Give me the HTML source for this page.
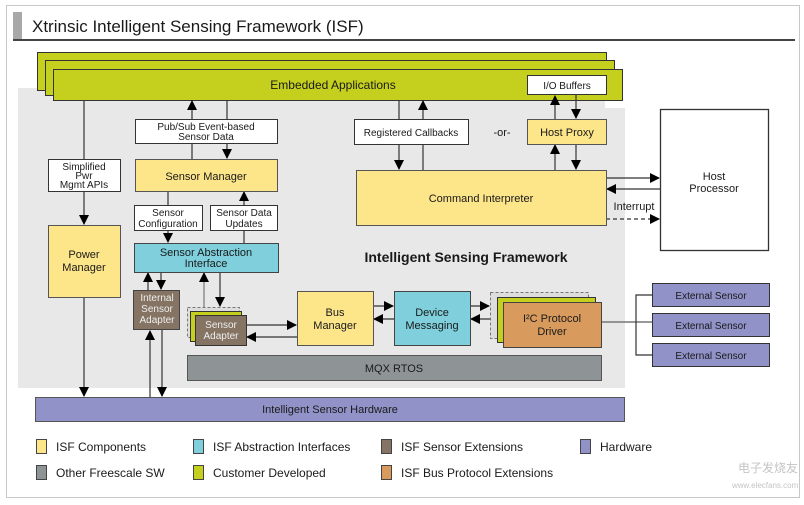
<!DOCTYPE html>
<html><head><meta charset="utf-8"><style>
html,body{margin:0;padding:0;background:#fff}
svg{display:block}
text{font-family:"Liberation Sans",sans-serif;fill:#1a1a1a}
</style></head><body>
<svg width="804" height="505" viewBox="0 0 804 505" xmlns="http://www.w3.org/2000/svg">
<defs>
<marker id="a" markerWidth="10" markerHeight="10" refX="9" refY="5" orient="auto" markerUnits="userSpaceOnUse"><path d="M0,0 L10,5 L0,10 z" fill="#000"/></marker>
</defs>
<rect x="6.5" y="5.5" width="793" height="492" fill="#fff" stroke="#c8c8c8"/>
<rect x="13" y="12" width="9" height="28" fill="#a8a8a8"/>
<text x="32" y="32" font-size="17">Xtrinsic Intelligent Sensing Framework (ISF)</text>
<rect x="13" y="39" width="782" height="2" fill="#444"/>
<rect x="18" y="88" width="607" height="300" fill="#e8e8e8"/>
<rect x="605" y="88" width="20" height="20" fill="#fff"/>
<g stroke="#333" fill="#c4cf1e">
<rect x="37.5" y="52.5" width="569" height="38"/>
<rect x="45.5" y="60.5" width="569" height="35"/>
<rect x="53.5" y="69.5" width="569" height="31"/>
</g>
<text x="333" y="89" font-size="12" text-anchor="middle">Embedded Applications</text>
<rect x="527.5" y="75.5" width="79" height="19" fill="#fff" stroke="#333"/>
<text x="567" y="89" font-size="10" text-anchor="middle">I/O Buffers</text>
<g stroke="#333" stroke-width="1.2" fill="none">
<line x1="84" y1="100" x2="84" y2="224" marker-end="url(#a)"/>
<line x1="84" y1="298" x2="84" y2="396" marker-end="url(#a)"/>
<line x1="192" y1="159" x2="192" y2="101" marker-end="url(#a)"/>
<line x1="227" y1="100" x2="227" y2="158" marker-end="url(#a)"/>
<line x1="168" y1="191" x2="168" y2="242" marker-end="url(#a)"/>
<line x1="244" y1="243" x2="244" y2="192" marker-end="url(#a)"/>
<line x1="148" y1="290" x2="148" y2="273" marker-end="url(#a)"/>
<line x1="161" y1="272" x2="161" y2="289" marker-end="url(#a)"/>
<line x1="204" y1="307" x2="204" y2="273" marker-end="url(#a)" stroke="#777"/>
<line x1="220" y1="272" x2="220" y2="306" marker-end="url(#a)"/>
<line x1="150" y1="397" x2="150" y2="331" marker-end="url(#a)"/>
<line x1="162" y1="330" x2="162" y2="396" marker-end="url(#a)"/>
<line x1="246" y1="325" x2="296" y2="325" marker-end="url(#a)"/>
<line x1="297" y1="337" x2="247" y2="337" marker-end="url(#a)"/>
<line x1="373" y1="306" x2="393" y2="306" marker-end="url(#a)"/>
<line x1="394" y1="319" x2="374" y2="319" marker-end="url(#a)"/>
<line x1="470" y1="306" x2="489" y2="306" marker-end="url(#a)"/>
<line x1="490" y1="319" x2="471" y2="319" marker-end="url(#a)"/>
<line x1="399" y1="100" x2="399" y2="169" marker-end="url(#a)"/>
<line x1="423" y1="170" x2="423" y2="101" marker-end="url(#a)"/>
<line x1="555" y1="119" x2="555" y2="96" marker-end="url(#a)"/>
<line x1="576" y1="95" x2="576" y2="118" marker-end="url(#a)"/>
<line x1="555" y1="170" x2="555" y2="145" marker-end="url(#a)"/>
<line x1="576" y1="144" x2="576" y2="169" marker-end="url(#a)"/>
<line x1="606" y1="178" x2="659" y2="178" marker-end="url(#a)"/>
<line x1="660" y1="189" x2="607" y2="189" marker-end="url(#a)"/>
<line x1="606" y1="219" x2="659" y2="219" marker-end="url(#a)" stroke-dasharray="4,3"/>
<line x1="600" y1="322" x2="652" y2="322" stroke="#777" stroke-width="1.5"/>
<polyline points="652,295 636,295 636,355 652,355"/>
</g>
<g stroke="#333" fill="#fff">
<rect x="135.5" y="119.5" width="142" height="24"/>
<rect x="48.5" y="159.5" width="72" height="32"/>
<rect x="134.5" y="205.5" width="68" height="25"/>
<rect x="210.5" y="205.5" width="67" height="25"/>
<rect x="354.5" y="119.5" width="114" height="25"/>
<rect x="660.5" y="109.5" width="108" height="141" stroke-width="1.3"/>
</g>
<g font-size="10" text-anchor="middle">
<text x="206" y="130">Pub/Sub Event-based</text><text x="206" y="140">Sensor Data</text>
<text x="84" y="170">Simplified</text><text x="84" y="179">Pwr</text><text x="84" y="188">Mgmt APIs</text>
<text x="168" y="216">Sensor</text><text x="168" y="227">Configuration</text>
<text x="244" y="216">Sensor Data</text><text x="244" y="227">Updates</text>
<text x="411" y="136">Registered Callbacks</text>
</g>
<text x="502" y="136" font-size="11" text-anchor="middle">-or-</text>
<text x="714" y="180" font-size="11" text-anchor="middle">Host</text>
<text x="714" y="192" font-size="11" text-anchor="middle">Processor</text>
<text x="634" y="210" font-size="11" text-anchor="middle">Interrupt</text>
<g stroke="#555" fill="#fde58a">
<rect x="135.5" y="159.5" width="142" height="32"/>
<rect x="48.5" y="225.5" width="72" height="72"/>
<rect x="297.5" y="291.5" width="76" height="54"/>
<rect x="527.5" y="119.5" width="79" height="25"/>
<rect x="356.5" y="170.5" width="250" height="55"/>
</g>
<text x="206" y="180" font-size="11" text-anchor="middle">Sensor Manager</text>
<text x="84" y="258" font-size="11" text-anchor="middle">Power</text>
<text x="84" y="271" font-size="11" text-anchor="middle">Manager</text>
<text x="335" y="316" font-size="11" text-anchor="middle">Bus</text>
<text x="335" y="329" font-size="11" text-anchor="middle">Manager</text>
<text x="567" y="136" font-size="11" text-anchor="middle">Host Proxy</text>
<text x="481" y="202" font-size="11" text-anchor="middle">Command Interpreter</text>
<g stroke="#444" fill="#7fd0dc">
<rect x="134.5" y="243.5" width="144" height="29"/>
<rect x="394.5" y="291.5" width="76" height="54"/>
</g>
<text x="206" y="256" font-size="11" text-anchor="middle">Sensor Abstraction</text>
<text x="206" y="267" font-size="11" text-anchor="middle">Interface</text>
<text x="432" y="316" font-size="11" text-anchor="middle">Device</text>
<text x="432" y="329" font-size="11" text-anchor="middle">Messaging</text>
<text x="466" y="262" font-size="14" font-weight="bold" text-anchor="middle">Intelligent Sensing Framework</text>
<rect x="133.5" y="290.5" width="46" height="39" fill="#857463" stroke="#444"/>
<g font-size="10" text-anchor="middle"><text x="157" y="301" style="fill:#eee">Internal</text><text x="157" y="312" style="fill:#eee">Sensor</text><text x="157" y="323" style="fill:#eee">Adapter</text></g>
<rect x="187.5" y="307.5" width="52" height="30" fill="#ddd" stroke="#777" stroke-dasharray="3,2"/>
<rect x="190.5" y="311.5" width="51" height="30" fill="#c4cf1e" stroke="#333"/>
<rect x="195.5" y="315.5" width="51" height="30" fill="#857463" stroke="#333"/>
<text x="221" y="328" font-size="10" text-anchor="middle" style="fill:#eee">Sensor</text>
<text x="221" y="339" font-size="10" text-anchor="middle" style="fill:#eee">Adapter</text>
<rect x="490.5" y="292.5" width="98" height="46" fill="#ddd" stroke="#777" stroke-dasharray="3,2"/>
<rect x="497.5" y="297.5" width="98" height="45" fill="#c4cf1e" stroke="#333"/>
<rect x="503.5" y="302.5" width="98" height="45" fill="#d99a5e" stroke="#444"/>
<text x="552" y="322" font-size="11" text-anchor="middle">I²C Protocol</text>
<text x="552" y="335" font-size="11" text-anchor="middle">Driver</text>
<rect x="187.5" y="355.5" width="414" height="25" fill="#8e9396" stroke="#555"/>
<text x="394" y="372" font-size="11" text-anchor="middle">MQX RTOS</text>
<rect x="35.5" y="397.5" width="589" height="24" fill="#9092c8" stroke="#555"/>
<text x="330" y="413" font-size="11" text-anchor="middle">Intelligent Sensor Hardware</text>
<g fill="#9092c8" stroke="#333">
<rect x="652.5" y="283.5" width="117" height="23"/>
<rect x="652.5" y="313.5" width="117" height="23"/>
<rect x="652.5" y="343.5" width="117" height="23"/>
</g>
<g font-size="10" text-anchor="middle"><text x="711" y="299">External Sensor</text><text x="711" y="329">External Sensor</text><text x="711" y="359">External Sensor</text></g>
<g stroke="#444">
<rect x="36.5" y="439.5" width="10" height="14" fill="#fde58a"/>
<rect x="36.5" y="465.5" width="10" height="14" fill="#8e9396"/>
<rect x="193.5" y="439.5" width="10" height="14" fill="#7fd0dc"/>
<rect x="193.5" y="465.5" width="10" height="14" fill="#c4cf1e"/>
<rect x="381.5" y="439.5" width="10" height="14" fill="#857463"/>
<rect x="381.5" y="465.5" width="10" height="14" fill="#d99a5e"/>
<rect x="580.5" y="439.5" width="10" height="14" fill="#9092c8"/>
</g>
<g font-size="12">
<text x="56" y="451">ISF Components</text>
<text x="56" y="477">Other Freescale SW</text>
<text x="213" y="451">ISF Abstraction Interfaces</text>
<text x="213" y="477">Customer Developed</text>
<text x="401" y="451">ISF Sensor Extensions</text>
<text x="401" y="477">ISF Bus Protocol Extensions</text>
<text x="600" y="451">Hardware</text>
</g>
<text x="738" y="472" font-size="12" style="fill:#c4c4c4;font-family:'Noto Sans CJK SC',sans-serif">电子发烧友</text>
<text x="732" y="488" font-size="8" style="fill:#c4c4c4">www.elecfans.com</text>
</svg>
</body></html>
